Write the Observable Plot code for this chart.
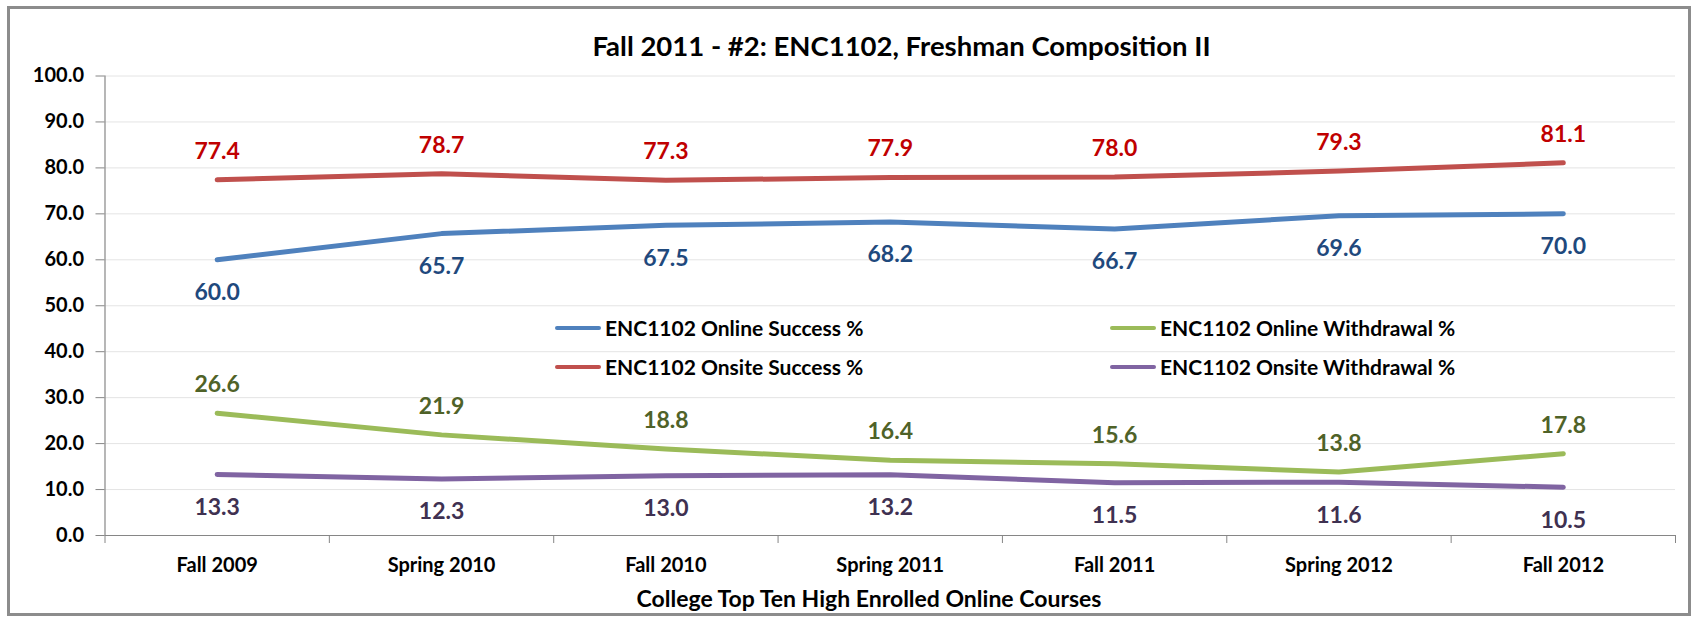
<!DOCTYPE html>
<html>
<head>
<meta charset="utf-8">
<script src="https://cdn.jsdelivr.net/npm/d3@7"></script>
<script src="https://cdn.jsdelivr.net/npm/@observablehq/plot@0.6"></script>
<style>
  html, body { margin: 0; padding: 0; background: #fff; }
  body { font-family: Lato, "Open Sans", sans-serif; font-weight: bold; }
  #wrap { position: relative; width: 1691px; height: 617px; overflow: hidden; }
  #frame { position: absolute; left: 7px; top: 6px; width: 1684px; height: 610px; box-sizing: border-box; border: 3px solid #8c8c8c; }
  #title { position: absolute; left: 0; width: 1803px; top: 30px; text-align: center; font-size: 27.5px; line-height: 32px; color: #000; }
  #xtitle { position: absolute; left: 0; width: 1738px; top: 584px; text-align: center; font-size: 23px; line-height: 28px; color: #000; }
  #chart { position: absolute; left: 0; top: 60px; }
  .leg { position: absolute; display: flex; align-items: center; font-size: 21px; line-height: 24px; color: #000; white-space: nowrap; }
  .sw { display: inline-block; width: 46px; height: 4px; border-radius: 2px; margin-right: 4px; }
</style>
</head>
<body>
<div id="wrap">
  <div id="frame"></div>
  <div id="title"></div>
  <div id="chart"></div>
  <div id="legend"></div>
  <div id="xtitle"></div>
</div>
<script>
const chartTitle = "Fall 2011 - #2: ENC1102, Freshman Composition II";
const xAxisTitle = "College Top Ten High Enrolled Online Courses";
const categories = ["Fall 2009", "Spring 2010", "Fall 2010", "Spring 2011", "Fall 2011", "Spring 2012", "Fall 2012"];
const onlineSuccess = [60.0, 65.7, 67.5, 68.2, 66.7, 69.6, 70.0];
const onsiteSuccess = [77.4, 78.7, 77.3, 77.9, 78.0, 79.3, 81.1];
const onlineWithdrawal = [26.6, 21.9, 18.8, 16.4, 15.6, 13.8, 17.8];
const onsiteWithdrawal = [13.3, 12.3, 13.0, 13.2, 11.5, 11.6, 10.5];
const seriesNames = ["ENC1102 Online Success %", "ENC1102 Onsite Success %", "ENC1102 Online Withdrawal %", "ENC1102 Onsite Withdrawal %"];
const seriesValues = [onlineSuccess, onsiteSuccess, onlineWithdrawal, onsiteWithdrawal];
const lineColors = ["#4f81bd", "#c0504d", "#9bbb59", "#8064a2"];
const labelColors = ["#1f497d", "#c00000", "#4f6228", "#3f3151"];
const labelSides = ["below", "above", "above", "below"];
const yTicks = [0, 10, 20, 30, 40, 50, 60, 70, 80, 90, 100];

document.getElementById("title").textContent = chartTitle;
document.getElementById("xtitle").textContent = xAxisTitle;

const idx = categories.map((c, i) => i);
const bounds = d3.range(categories.length + 1).map(i => i - 0.5);

const marks = [
  Plot.gridY(yTicks, {stroke: "#e4e4e4", strokeOpacity: 1}),
  Plot.ruleX([-0.5], {stroke: "#868686", strokeWidth: 1.2}),
  Plot.ruleY([0], {stroke: "#868686", strokeWidth: 1.2}),
  Plot.axisY(yTicks, {tickSize: 9, tickPadding: 12, tickFormat: d => d.toFixed(1), stroke: "#868686", fill: "#000", fontSize: 20, fontWeight: "bold", label: null}),
  Plot.axisX(bounds, {tickSize: 8, tickFormat: () => "", stroke: "#868686", label: null}),
  Plot.axisX(idx, {tickSize: 0, tickPadding: 22, tickFormat: i => categories[i], fill: "#000", fontSize: 20, fontWeight: "bold", label: null})
];

seriesValues.forEach((vals, s) => {
  const rows = vals.map((v, i) => ({i, v}));
  marks.push(Plot.line(rows, {x: "i", y: "v", stroke: lineColors[s], strokeWidth: 5, strokeLinecap: "round", strokeLinejoin: "round"}));
});
seriesValues.forEach((vals, s) => {
  const rows = vals.map((v, i) => ({i, v}));
  marks.push(Plot.text(rows, {x: "i", y: "v", text: d => d.v.toFixed(1), dy: labelSides[s] === "above" ? -28.5 : 33, fill: labelColors[s], fontSize: 23, fontWeight: "bold"}));
});

const chart = Plot.plot({
  width: 1691,
  height: 518,
  marginLeft: 104.5,
  marginRight: 16,
  marginTop: 15.5,
  marginBottom: 43,
  style: {fontFamily: "Lato, 'Open Sans', sans-serif", fontWeight: "bold", color: "#000", background: "transparent", overflow: "visible"},
  x: {type: "linear", domain: [-0.5, categories.length - 0.5], axis: null},
  y: {type: "linear", domain: [0, 100], axis: null},
  marks
});
document.getElementById("chart").appendChild(chart);

// legend overlay (2 columns x 2 rows, Excel order)
const legPos = [[555, 316], [555, 355], [1110, 316], [1110, 355]];
const leg = document.getElementById("legend");
seriesNames.forEach((name, s) => {
  const d = document.createElement("div");
  d.className = "leg";
  d.style.left = legPos[s][0] + "px";
  d.style.top = legPos[s][1] + "px";
  const sw = document.createElement("span");
  sw.className = "sw";
  sw.style.background = lineColors[s];
  d.appendChild(sw);
  d.appendChild(document.createTextNode(name));
  leg.appendChild(d);
});
</script>
</body>
</html>
